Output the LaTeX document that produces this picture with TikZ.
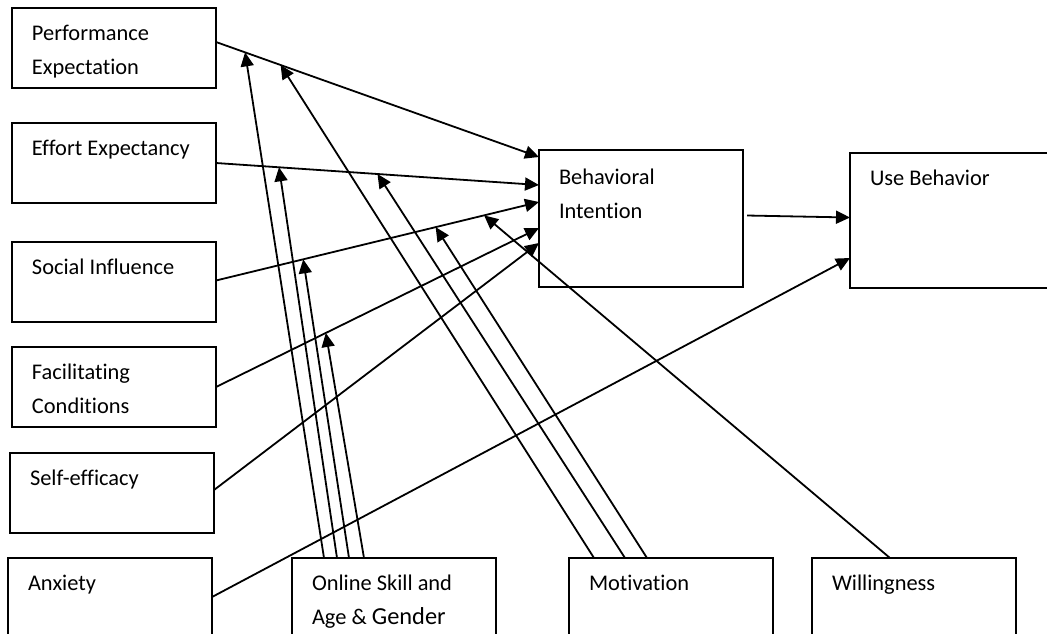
\documentclass[tikz,border=0pt]{standalone}
\usepackage{fontspec}
\setmainfont{Carlito}[Ligatures={NoCommon}]
\usepackage{tikz}
\usetikzlibrary{arrows.meta,positioning}

\begin{document}
\begin{tikzpicture}
[
x=1pt, y=1pt,
line width=0.9pt,
font=\fontsize{11.2}{17}\selectfont,
>={Triangle[length=7pt,width=6.5pt]},
box/.style={rectangle, draw=black, anchor=north west, outer sep=0pt, text width=82pt, inner xsep=10pt, inner ysep=4pt, align=flush left, text height=12pt, text depth=20pt},
box_low/.style={box, text depth=21pt},
box_big/.style={box, text height=13pt, text depth=47.5pt}
]
\useasboundingbox (0,0) rectangle (523.5,-316.5);

%Nodes
\node[box]          (pe)    at (6,-4)                   {Performance\\Expectation};
\node[box]          (ee)    [below=17.5pt of pe]        {Effort Expectancy};
\node[box]          (si)    [below=19.5pt of ee]        {Social Influence};
\node[box]          (fc)    [below=12.5pt of si]        {Facilitating\\Conditions};
\node[box]          (se)    [below=13pt of fc, xshift=-1pt]     {Self-efficacy};
\node[box_low]      (anx)   [below=12.5pt of se, xshift=-1pt]   {Anxiety};
\node[box_low]      (os)    [right=40pt of anx]         {Online Skill and\\Age \& {\fontsize{12.2}{17}\selectfont Gender}};
\node[box_low]      (mot)   [right=36.5pt of os]        {Motivation};
\node[box_low]      (wil)   [right=19.5pt of mot]       {Willingness};
\node[box_big]      (bi)    [right=161.5pt of ee.north east, anchor=north west, yshift=-13.5pt] {Behavioral\\Intention};
\node[box_big, text width=110pt, text height=12pt] (ub) [right=53.5pt of bi.north east, anchor=north west, yshift=-1.5pt] {Use Behavior};

%Lines
\draw[->] ([yshift=3pt]pe.east) -- coordinate[pos=0.09] (peos) coordinate[pos=0.2] (pemot) ([yshift=-3.5pt]bi.north west);
\draw[->] (ee.east) -- coordinate[pos=0.195] (eeos) coordinate[pos=0.5] (eemot) ([yshift=-17.5pt]bi.north west);
\draw[->] ([yshift=0.75pt]si.east) -- coordinate[pos=0.27] (sios) coordinate[pos=0.68] (simot) coordinate[pos=0.83] (siwil) ([yshift=-26pt]bi.north west);
\draw[->] (fc.east) -- coordinate[pos=0.34] (fcos) ([yshift=-39pt]bi.north west);
\draw[->] ([yshift=1.5pt]se.east) -- ([yshift=-46.5pt]bi.north west);
\draw[->] ([xshift=2pt,yshift=1.5pt]bi.east) -- ([yshift=1.5pt]ub.west);
\draw[->] ([yshift=1pt]anx.east) -- ([yshift=-52.5pt]ub.north west);

%Moderators
\draw[->] ([xshift=16pt]os.north west) -- (peos);
\draw[->] ([xshift=22.5pt]os.north west) -- (eeos);
\draw[->] ([xshift=28.5pt]os.north west) -- (sios);
\draw[->] ([xshift=36pt]os.north west) -- (fcos);
\draw[->] ([xshift=12.5pt]mot.north west) -- (pemot);
\draw[->] ([xshift=28pt]mot.north west) -- (eemot);
\draw[->] ([xshift=39pt]mot.north west) -- (simot);
\draw[->] ([xshift=39pt]wil.north west) -- (siwil);
\end{tikzpicture}
\end{document}
